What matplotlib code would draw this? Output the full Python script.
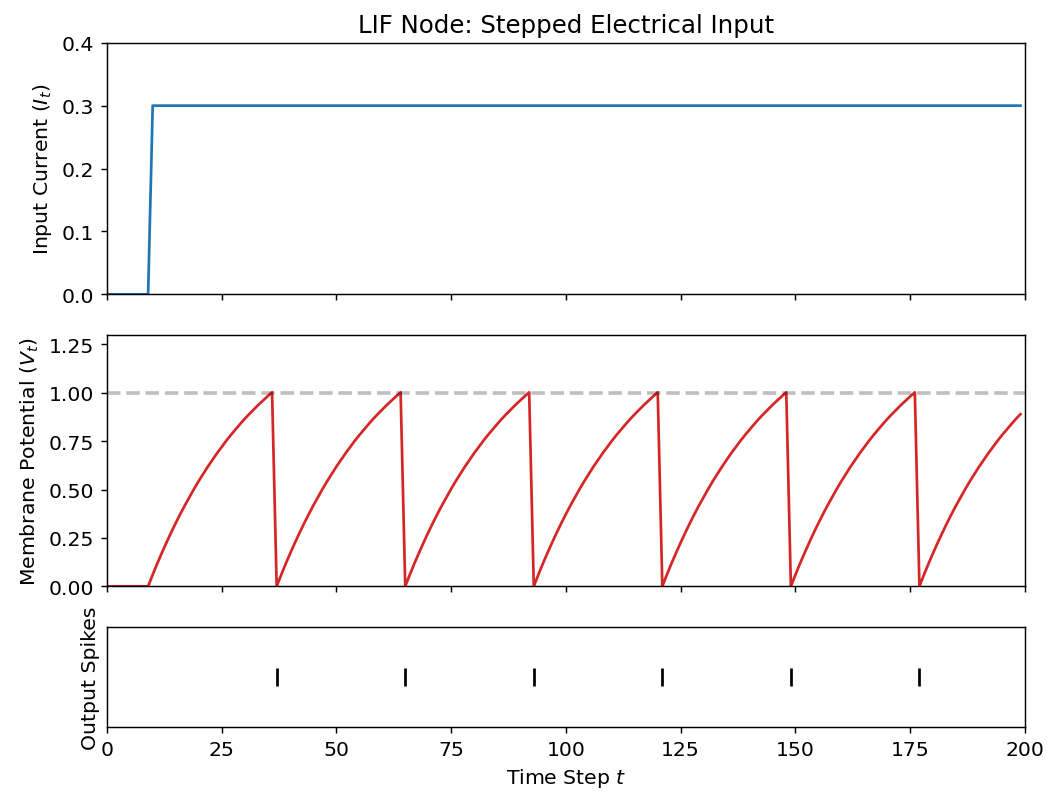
import numpy as np
import matplotlib
matplotlib.use("Agg")
import matplotlib.pyplot as plt

plt.rcParams['font.size'] = 11.2

# values
n_steps = 200
input_current = [0.0] * 10 + [0.3] * 190
threshold = 1.0

# one charging ramp of the membrane, steps after a reset
ramp = [0.000, 0.060, 0.118, 0.173, 0.226, 0.277, 0.326, 0.373, 0.418, 0.461,
        0.503, 0.543, 0.581, 0.618, 0.653, 0.687, 0.719, 0.751, 0.781, 0.809,
        0.837, 0.864, 0.889, 0.913, 0.937, 0.959, 0.981, 1.002]
ramp_starts = [9, 37, 65, 93, 121, 149, 177]
spike_times = [37, 65, 93, 121, 149, 177]

mem = np.zeros(n_steps)
for s in ramp_starts:
    seg = ramp[:n_steps - s]
    mem[s:s + len(seg)] = seg

t = np.arange(n_steps)

fig, ax = plt.subplots(3, figsize=(1047 / 131, 795 / 131), dpi=131, sharex=True,
                       gridspec_kw={'height_ratios': [1, 1, 0.4]})
fig.subplots_adjust(left=0.102, right=0.979, top=0.945, bottom=0.084, hspace=0.2)

# input current
ax[0].plot(t, input_current, c="tab:blue")
ax[0].set_ylim([0, 0.4])
ax[0].set_ylabel("Input Current ($I_t$)")
ax[0].set_title("LIF Node: Stepped Electrical Input")

# membrane potential
ax[1].plot(t, mem, c="tab:red")
ax[1].set_ylim([0, 1.3])
ax[1].set_yticks([0, 0.25, 0.5, 0.75, 1.0, 1.25])
ax[1].set_ylabel("Membrane Potential ($V_t$)")
ax[1].axhline(y=threshold, alpha=0.25, linestyle="dashed", c="black", linewidth=2)

# output spikes
ax[2].scatter(spike_times, [0] * len(spike_times), s=100, c="black", marker="|")
ax[2].set_ylim([-0.5, 0.5])
ax[2].set_yticks([])
ax[2].set_ylabel("Output Spikes")
ax[2].set_xlabel("Time Step $t$")

ax[2].set_xlim([0, 200])

plt.savefig("out.png")
